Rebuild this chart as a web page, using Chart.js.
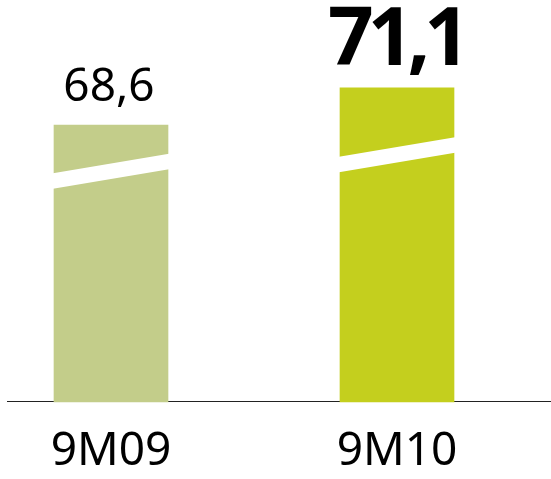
<!DOCTYPE html>
<html lang="ru">
<head>
  <meta charset="UTF-8" />
  <title>9M09 / 9M10</title>
  <script src="https://cdn.jsdelivr.net/npm/chart.js"></script>
  <style>
    html, body { margin: 0; padding: 0; background: #fff; }
    #wrap { width: 551px; height: 479px; }
  </style>
</head>
<body>
  <div id="wrap"><canvas id="chart"></canvas></div>

  <script>
    // данные
    const categories = ['9M09', '9M10'];
    const values = [68.6, 71.1];
    const valueLabels = ['68,6', '71,1'];
    const barColors = ['#c3cd8a', '#c4cf1e'];
    // где проходит белый "разрыв" оси (в единицах оси y)
    const breakAt = [65.5, 66.6];
    const axisMin = 50;

    // белая наклонная полоса-разрыв, линия оси и подписи значений
    const extras = {
      id: 'extras',
      beforeDatasetsDraw(chart) {
        const ctx = chart.ctx;
        const y = chart.chartArea.bottom - 0.5;
        ctx.save();
        ctx.strokeStyle = '#222';
        ctx.lineWidth = 1;
        ctx.beginPath();
        ctx.moveTo(7, y);
        ctx.lineTo(551, y);
        ctx.stroke();
        ctx.restore();
      },
      afterDatasetsDraw(chart) {
        const ctx = chart.ctx;
        const yScale = chart.scales.y;
        const bars = chart.getDatasetMeta(0).data;
        ctx.save();
        bars.forEach((bar, i) => {
          const half = bar.width / 2;
          const mid = yScale.getPixelForValue(breakAt[i]);
          const rise = 19.5, thick = 15.5;
          const l = bar.x - half - 1, r = bar.x + half + 1;
          const yl = mid + rise / 2, yr = mid - rise / 2;
          ctx.fillStyle = '#fff';
          ctx.beginPath();
          ctx.moveTo(l, yl - thick / 2);
          ctx.lineTo(r, yr - thick / 2);
          ctx.lineTo(r, yr + thick / 2);
          ctx.lineTo(l, yl + thick / 2);
          ctx.closePath();
          ctx.fill();

          ctx.fillStyle = '#000';
          ctx.textAlign = 'center';
          ctx.textBaseline = 'alphabetic';
          if (i === values.length - 1) {
            ctx.font = 'bold 80px "Noto Sans"';
            if ('letterSpacing' in ctx) ctx.letterSpacing = '-6px';
            ctx.fillText(valueLabels[i], bar.x - 1, bar.y - 23);
            if ('letterSpacing' in ctx) ctx.letterSpacing = '0px';
          } else {
            ctx.font = '46px "Noto Sans"';
            ctx.fillText(valueLabels[i], bar.x - 2, bar.y - 24);
          }
        });
        ctx.restore();
      }
    };

    new Chart(document.getElementById('chart'), {
      type: 'bar',
      data: {
        labels: categories,
        datasets: [{
          data: values,
          backgroundColor: barColors,
          barThickness: 114,
          borderWidth: 0,
          base: axisMin,
          clip: false
        }]
      },
      options: {
        responsive: true,
        maintainAspectRatio: false,
        animation: false,
        layout: { padding: { left: 111, right: 154, top: 0, bottom: 0 } },
        plugins: {
          legend: { display: false },
          tooltip: { enabled: false }
        },
        scales: {
          x: {
            offset: false,
            grid: { display: false, drawTicks: false },
            border: { display: false },
            afterFit: (scale) => { scale.height = 77; },
            ticks: {
              padding: 22,
              color: '#000',
              font: { family: '"Noto Sans"', size: 46 },
              maxRotation: 0,
              autoSkip: false
            }
          },
          y: {
            display: false,
            min: axisMin,
            max: 77
          }
        }
      },
      plugins: [extras]
    });
  </script>
</body>
</html>
